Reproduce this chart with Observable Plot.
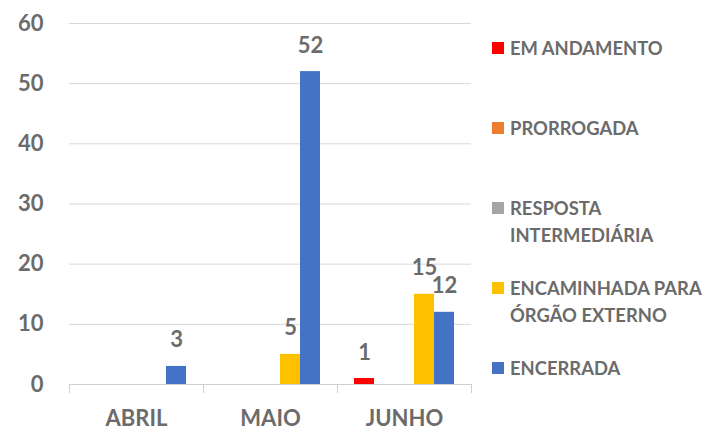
<!DOCTYPE html>
<html>
<head>
<meta charset="utf-8">
<script src="https://cdn.jsdelivr.net/npm/d3@7"></script>
<script src="https://cdn.jsdelivr.net/npm/@observablehq/plot@0.6"></script>
<style>
  html, body { margin: 0; padding: 0; background: #fff; }
  #wrap { position: relative; width: 706px; height: 430px; font-family: Lato, "Open Sans", sans-serif; font-weight: 700; color: #6b6b6b; }
  .leg { position: absolute; left: 492px; font-size: 18.4px; line-height: 26.5px; }
  .leg .sw { position: absolute; left: 0; top: 7px; width: 12px; height: 12px; }
  .leg .tx { position: absolute; left: 18px; white-space: pre; }
</style>
</head>
<body>
<div id="wrap"></div>
<script>
const months = ["ABRIL", "MAIO", "JUNHO"];
const series = ["EM ANDAMENTO", "PRORROGADA", "RESPOSTA INTERMEDIÁRIA", "ENCAMINHADA PARA ÓRGÃO EXTERNO", "ENCERRADA"];
const legendLabels = ["EM ANDAMENTO", "PRORROGADA", "RESPOSTA\nINTERMEDIÁRIA", "ENCAMINHADA PARA\nÓRGÃO EXTERNO", "ENCERRADA"];
const colors = ["#FF0000", "#ED7D31", "#A5A5A5", "#FFC000", "#4472C4"];
const emAndamento = [0, 0, 1];
const prorrogada = [0, 0, 0];
const respostaIntermediaria = [0, 0, 0];
const encaminhada = [0, 5, 15];
const encerrada = [3, 52, 12];
const yTicks = [0, 10, 20, 30, 40, 50, 60];

const values = [emAndamento, prorrogada, respostaIntermediaria, encaminhada, encerrada];
const data = [];
months.forEach((m, i) => series.forEach((s, j) => data.push({month: m, series: s, value: values[j][i]})));

const textColor = "#6b6b6b";
const chart = Plot.plot({
  width: 706,
  height: 430,
  marginLeft: 69,
  marginRight: 235,
  marginTop: 23,
  marginBottom: 46,
  style: {fontFamily: "Lato, 'Open Sans', sans-serif", fontWeight: 700, color: textColor, background: "#fff"},
  fx: {domain: months, padding: 0, label: null},
  x: {domain: series, paddingInner: 0, paddingOuter: 0.735, axis: null},
  y: {domain: [0, 60], label: null},
  color: {domain: series, range: colors},
  marks: [
    Plot.gridY(yTicks.filter(d => d > 0), {stroke: "#d9d9d9", strokeOpacity: 1}),
    Plot.axisY(yTicks, {tickSize: 0, tickPadding: 26, fontSize: 22, fontWeight: 700, fill: textColor, label: null}),
    Plot.axisFx({anchor: "bottom", tickSize: 0, tickPadding: 26, fontSize: 22, fontWeight: 700, fill: textColor, label: null}),
    Plot.frame({anchor: "left", stroke: "#d0d0d0", strokeOpacity: 1, insetTop: 361, insetBottom: -8}),
    Plot.frame({anchor: "right", stroke: "#d0d0d0", strokeOpacity: 1, insetTop: 361, insetBottom: -8}),
    Plot.ruleY([0], {stroke: "#d0d0d0"}),
    Plot.barY(data.filter(d => d.value > 0), {fx: "month", x: "series", y: "value", fill: "series"}),
    Plot.text(data.filter(d => d.value > 0), {fx: "month", x: "series", y: "value", text: d => String(d.value), dy: -26, fontSize: 22, fontWeight: 700, fill: textColor, lineAnchor: "middle"})
  ]
});
const wrap = document.getElementById("wrap");
wrap.appendChild(chart);

legendLabels.forEach((lab, i) => {
  const div = document.createElement("div");
  div.className = "leg";
  div.style.top = (48 + 80 * i - 13) + "px";
  const sw = document.createElement("div");
  sw.className = "sw";
  sw.style.background = colors[i];
  const tx = document.createElement("div");
  tx.className = "tx";
  tx.textContent = lab;
  div.appendChild(sw);
  div.appendChild(tx);
  wrap.appendChild(div);
});
chart.style.position = "absolute";
chart.style.left = "0";
chart.style.top = "0";
</script>
</body>
</html>
